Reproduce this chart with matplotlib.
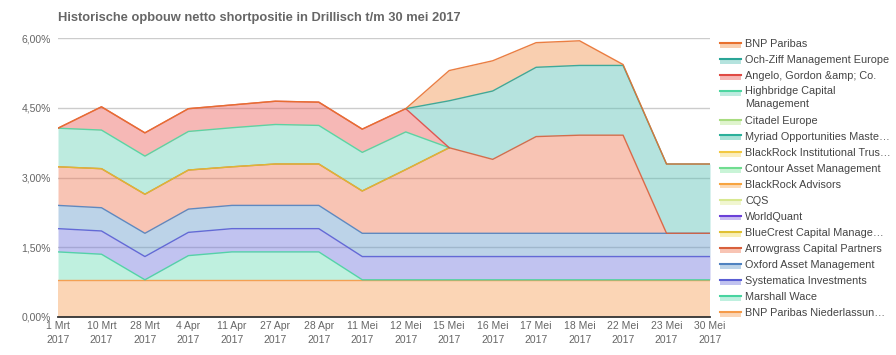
import matplotlib
matplotlib.use('Agg')
import matplotlib.pyplot as plt
import numpy as np
from matplotlib.patches import Rectangle
from matplotlib.lines import Line2D

plt.rcParams['font.family'] = ['Liberation Sans', 'DejaVu Sans']

nan = np.nan

# Datums (x-as)
datums = ['1 Mrt\n2017', '10 Mrt\n2017', '28 Mrt\n2017', '4 Apr\n2017', '11 Apr\n2017',
          '27 Apr\n2017', '28 Apr\n2017', '11 Mei\n2017', '12 Mei\n2017', '15 Mei\n2017',
          '16 Mei\n2017', '17 Mei\n2017', '18 Mei\n2017', '22 Mei\n2017', '23 Mei\n2017',
          '30 Mei\n2017']

# Shortposities in %, volgorde zoals in de legenda (bovenste eerst)
bnp_paribas   = [0, 0, 0, 0, 0, 0, 0, 0, 0, 0.65, 0.65, 0.53, 0.53, 0.02, 0, 0]
och_ziff      = [nan, nan, nan, nan, nan, nan, nan, nan, 0, 1.01, 1.47, 1.49, 1.50, 1.50, 1.49, 1.49]
angelo        = [0, 0.50, 0.50, 0.49, 0.49, 0.50, 0.50, 0.50, 0.50, 0, nan, nan, nan, nan, nan, nan]
highbridge    = [0.83, 0.83, 0.82, 0.83, 0.84, 0.85, 0.83, 0.83, 0.81, 0, nan, nan, nan, nan, nan, nan]
citadel       = [nan] * 16
myriad        = [nan] * 16
blackrock_ins = [nan] * 16
contour       = [nan] * 16
blackrock_adv = [nan] * 16
cqs           = [nan] * 16
worldquant    = [nan] * 16
bluecrest     = [0, 0, 0, 0, 0, 0, 0, 0, 0, 0, nan, nan, nan, nan, nan, nan]
arrowgrass    = [0.83, 0.84, 0.84, 0.84, 0.83, 0.89, 0.89, 0.91, 1.37, 1.84, 1.59, 2.08, 2.11, 2.11, 0, 0]
oxford        = [0.50] * 16
systematica   = [0.50] * 16
marshall      = [0.60, 0.55, 0, 0.52, 0.60, 0.60, 0.60, 0, 0, 0, 0, 0, 0, 0, 0, 0]
bnp_nieder    = [0.80] * 16

namen = ['BNP Paribas', 'Och-Ziff Management Europe', 'Angelo, Gordon &amp; Co.',
         'Highbridge Capital\nManagement', 'Citadel Europe', 'Myriad Opportunities Maste…',
         'BlackRock Institutional Trus…', 'Contour Asset Management', 'BlackRock Advisors',
         'CQS', 'WorldQuant', 'BlueCrest Capital Manage…', 'Arrowgrass Capital Partners',
         'Oxford Asset Management', 'Systematica Investments', 'Marshall Wace',
         'BNP Paribas Niederlassun…']
reeksen = [bnp_paribas, och_ziff, angelo, highbridge, citadel, myriad, blackrock_ins,
           contour, blackrock_adv, cqs, worldquant, bluecrest, arrowgrass, oxford,
           systematica, marshall, bnp_nieder]
lijnkleuren = ['#e8702e', '#2aa597', '#e04a44', '#4cd6a0', '#a8dc80', '#2ab09a', '#f2c840',
               '#70dd90', '#f7a440', '#d8e890', '#6a40d8', '#e0c030', '#d8603c', '#4f82c0',
               '#5a5ed4', '#48d4a0', '#f59a48']
vulkleuren = ['#f29550', '#5bc2b7', '#ec625d', '#6dd3b9', '#b8e890', '#40c0a8', '#f8d868',
              '#88e8a8', '#f9b060', '#e0ec98', '#8a70e0', '#f2dc58', '#f07c59', '#6b9ecc',
              '#767ade', '#73deba', '#f7a35c']

fig = plt.figure(figsize=(8.96, 3.55), dpi=100)
ax = fig.add_axes([58/896, 1-317/355, 652/896, 279/355])

x = np.arange(len(datums))
# stapelen van onder naar boven
basis = np.zeros(len(x))
for waarden, lk, vk in list(zip(reeksen, lijnkleuren, vulkleuren))[::-1]:
    w = np.array(waarden, dtype=float)
    top = basis + np.nan_to_num(w)
    ax.fill_between(x, basis, top, color=vk, alpha=0.45, linewidth=0, zorder=2)
    lijn = np.where(np.isnan(w), np.nan, top)
    ax.plot(x, lijn, color=lk, lw=1.0, alpha=0.9, zorder=3)
    basis = top

ax.set_xlim(0, len(x) - 1)
ax.set_ylim(0, 6)
ax.set_yticks([0, 1.5, 3, 4.5, 6])
ax.set_yticklabels(['0,00%', '1,50%', '3,00%', '4,50%', '6,00%'])
ax.set_xticks(x)
ax.set_xticklabels(datums, linespacing=1.45)
ax.tick_params(axis='y', length=0, labelsize=7.5, labelcolor='#666666', pad=5)
ax.tick_params(axis='x', length=0, labelsize=7.5, labelcolor='#666666', pad=3)
ax.grid(axis='y', color='#cccccc', lw=1, zorder=1)
ax.set_axisbelow(True)
for s in ['left', 'right', 'top']:
    ax.spines[s].set_visible(False)
ax.spines['bottom'].set_color('#333333')
ax.spines['bottom'].set_linewidth(1.3)
ax.spines['bottom'].set_zorder(4)

fig.text(58/896, 1-18/355, 'Historische opbouw netto shortpositie in Drillisch t/m 30 mei 2017',
         fontsize=9.3, fontweight='bold', color='#666666', va='center')

# legenda
ypos = [44, 60, 76, 92, 121, 137, 153, 169, 185, 201, 217, 233, 249, 265, 281, 297, 313]
for naam, lk, vk, yp in zip(namen, lijnkleuren, vulkleuren, ypos):
    fig.add_artist(Rectangle((720/896, 1-(yp+3.5)/355), 21/896, 5.5/355,
                             transform=fig.transFigure, facecolor=vk, alpha=0.45,
                             edgecolor='none'))
    fig.add_artist(Line2D([720/896, 741/896], [1-(yp-1.5)/355]*2,
                          transform=fig.transFigure, color=lk, lw=1.5))
    if '\n' in naam:
        fig.text(745/896, 1-(yp-6)/355, naam, fontsize=7.8, color='#444444', va='top',
                 linespacing=1.35)
    else:
        fig.text(745/896, 1-yp/355, naam, fontsize=7.8, color='#444444', va='center')

fig.savefig('out.png', dpi=100)
